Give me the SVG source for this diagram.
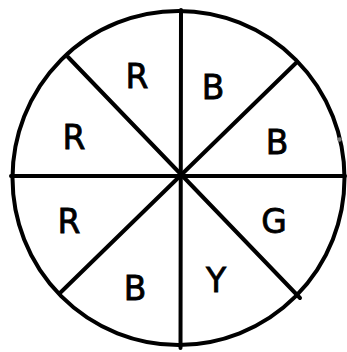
<svg xmlns="http://www.w3.org/2000/svg" width="347" height="352" viewBox="0 0 347 352">
<style>
.ln{stroke:#000;stroke-width:4;fill:none;stroke-linecap:round}
.lb{font-family:"Comic Sans MS","DejaVu Sans","Noto Sans",sans-serif;font-size:33px;fill:#000;stroke:#000;stroke-width:0.8;text-anchor:middle}
</style>
<rect width="347" height="352" fill="#fff"/>
<g id="circle"><ellipse class="ln" cx="178.5" cy="178" rx="166" ry="167"/></g>
<g id="connectors">
<line class="ln" x1="11" y1="176" x2="345" y2="176"/>
<line class="ln" x1="181" y1="10" x2="180.5" y2="348"/>
<line class="ln" x1="68" y1="57" x2="300" y2="298"/>
<line class="ln" x1="297" y1="62" x2="60" y2="293"/>
</g>
<circle cx="339.5" cy="139.5" r="2.2" fill="#777"/>
<g id="s1"><text class="lb" x="137" y="88">R</text></g>
<g id="s2"><text class="lb" x="213" y="99">B</text></g>
<g id="s3"><text class="lb" x="277" y="154">B</text></g>
<g id="s4"><text class="lb" x="274" y="233">G</text></g>
<g id="s5"><text class="lb" x="216" y="292">Y</text></g>
<g id="s6"><text class="lb" x="135" y="300">B</text></g>
<g id="s7"><text class="lb" x="69" y="233">R</text></g>
<g id="s8"><text class="lb" x="74" y="149">R</text></g>
</svg>
